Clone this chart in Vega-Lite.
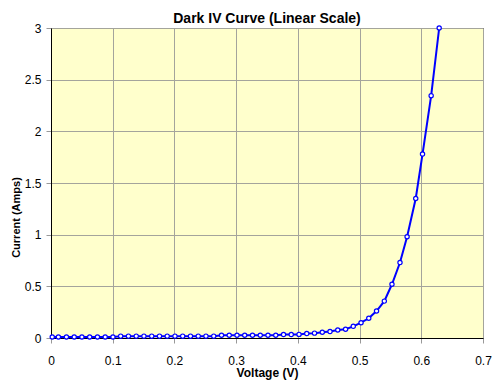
{
  "$schema": "https://vega.github.io/schema/vega-lite/v6.json",
  "width": 432,
  "height": 310,
  "autosize": {"type": "none"},
  "padding": {"left": 51, "top": 28, "right": 17, "bottom": 53},
  "background": "white",
  "title": {
    "text": "Dark IV Curve (Linear Scale)",
    "font": "Liberation Sans",
    "fontSize": 14,
    "fontWeight": "bold",
    "color": "black",
    "offset": -4
  },
  "config": {
    "view": {"fill": "#FFFFCC", "stroke": "black", "strokeWidth": 1},
    "axis": {
      "labelFont": "Liberation Sans",
      "labelFontSize": 12,
      "labelColor": "black",
      "titleFont": "Liberation Sans",
      "titleFontWeight": "bold",
      "titleColor": "black",
      "gridColor": "#a4a49c",
      "gridOpacity": 1,
      "gridWidth": 1,
      "tickColor": "#999999",
      "tickSize": 5,
      "domainColor": "black",
      "domainWidth": 1
    }
  },
  "data": {
    "values": [
      {"voltage": 0.002, "current": 0.01},
      {"voltage": 0.012, "current": 0.01},
      {"voltage": 0.025, "current": 0.01},
      {"voltage": 0.0376, "current": 0.01},
      {"voltage": 0.0501, "current": 0.01},
      {"voltage": 0.0627, "current": 0.01},
      {"voltage": 0.0753, "current": 0.01},
      {"voltage": 0.0878, "current": 0.01},
      {"voltage": 0.1004, "current": 0.01},
      {"voltage": 0.1129, "current": 0.018},
      {"voltage": 0.1255, "current": 0.018},
      {"voltage": 0.1381, "current": 0.018},
      {"voltage": 0.1506, "current": 0.018},
      {"voltage": 0.1632, "current": 0.018},
      {"voltage": 0.1758, "current": 0.018},
      {"voltage": 0.1883, "current": 0.018},
      {"voltage": 0.2009, "current": 0.018},
      {"voltage": 0.2134, "current": 0.018},
      {"voltage": 0.226, "current": 0.018},
      {"voltage": 0.2386, "current": 0.018},
      {"voltage": 0.2511, "current": 0.018},
      {"voltage": 0.2637, "current": 0.018},
      {"voltage": 0.2763, "current": 0.027},
      {"voltage": 0.2888, "current": 0.027},
      {"voltage": 0.3014, "current": 0.027},
      {"voltage": 0.3139, "current": 0.027},
      {"voltage": 0.3265, "current": 0.027},
      {"voltage": 0.3391, "current": 0.027},
      {"voltage": 0.3516, "current": 0.027},
      {"voltage": 0.3642, "current": 0.027},
      {"voltage": 0.3768, "current": 0.033},
      {"voltage": 0.3893, "current": 0.033},
      {"voltage": 0.4019, "current": 0.035},
      {"voltage": 0.4144, "current": 0.043},
      {"voltage": 0.427, "current": 0.047},
      {"voltage": 0.4396, "current": 0.056},
      {"voltage": 0.4521, "current": 0.062},
      {"voltage": 0.4647, "current": 0.077},
      {"voltage": 0.4773, "current": 0.085},
      {"voltage": 0.4898, "current": 0.113},
      {"voltage": 0.5024, "current": 0.148},
      {"voltage": 0.5149, "current": 0.191},
      {"voltage": 0.5275, "current": 0.261},
      {"voltage": 0.5401, "current": 0.357},
      {"voltage": 0.5525, "current": 0.52},
      {"voltage": 0.5655, "current": 0.73},
      {"voltage": 0.577, "current": 0.98},
      {"voltage": 0.591, "current": 1.35},
      {"voltage": 0.602, "current": 1.78},
      {"voltage": 0.616, "current": 2.345},
      {"voltage": 0.629, "current": 3.0}
    ]
  },
  "encoding": {
    "x": {
      "field": "voltage",
      "type": "quantitative",
      "scale": {"domain": [0, 0.7], "nice": false},
      "axis": {
        "title": "Voltage (V)",
        "titleFontSize": 12,
        "values": [0, 0.1, 0.2, 0.3, 0.4, 0.5, 0.6, 0.7],
        "format": "~g",
        "labelPadding": 12,
        "titlePadding": 1,
        "labelFlush": false
      }
    },
    "y": {
      "field": "current",
      "type": "quantitative",
      "scale": {"domain": [0, 3], "nice": false},
      "axis": {
        "title": "Current (Amps)",
        "titleFontSize": 11,
        "values": [0, 0.5, 1, 1.5, 2, 2.5, 3],
        "format": "~g",
        "labelPadding": 5,
        "titleX": -30,
        "titleY": 189,
        "labelFlush": false
      }
    }
  },
  "layer": [
    {
      "mark": {"type": "line", "color": "#0000FF", "strokeWidth": 2}
    },
    {
      "mark": {"type": "point", "shape": "circle", "filled": true, "fill": "white", "stroke": "#0000FF", "strokeWidth": 1.2, "size": 18, "opacity": 1}
    }
  ]
}
